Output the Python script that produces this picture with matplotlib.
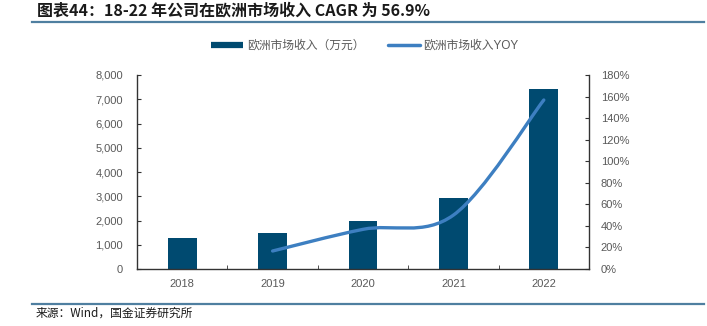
import numpy as np
import matplotlib
matplotlib.use("Agg")
import matplotlib.pyplot as plt
from matplotlib.path import Path
from matplotlib.patches import PathPatch
from matplotlib.lines import Line2D
from matplotlib.ticker import FuncFormatter, MultipleLocator

plt.rcParams['font.family'] = ['Liberation Sans', 'Noto Sans CJK SC', 'DejaVu Sans']

# data
years = ['2018', '2019', '2020', '2021', '2022']
revenue = [1266, 1472, 1966, 2915, 7436]        # 万元
yoy_years = [1, 2, 3, 4]                        # index into years (2019-2022)
yoy = [0.167, 0.368, 0.50, 1.568]

title = '图表44：18-22 年公司在欧洲市场收入 CAGR 为 56.9%'
source = '来源：Wind，国金证券研究所'
bar_name = '欧洲市场收入（万元）'
line_name = '欧洲市场收入YOY'

bar_c = '#004a70'
line_c = '#3d7fc1'
rule_c = '#4f7fa0'
txt_c = '#595959'
axis_c = '#333333'

W, H = 707, 326
fig = plt.figure(figsize=(W / 100, H / 100), dpi=100)
ax = fig.add_axes([137 / W, 1 - 269 / H, (589 - 137) / W, (269 - 75) / H])
ax2 = ax.twinx()

x = np.arange(len(years))
ax.bar(x, revenue, width=0.32, color=bar_c, zorder=2)
ax.set_xlim(-0.5, len(years) - 0.5)
ax.set_ylim(0, 8000)
ax.yaxis.set_major_locator(MultipleLocator(1000))
ax.yaxis.set_major_formatter(FuncFormatter(lambda v, p: f'{int(v):,}'))
ax.set_xticks(x)
ax.set_xticklabels(years)
ax.set_xticks(x[:-1] + 0.5, minor=True)

ax2.set_ylim(0, 1.8)
ax2.yaxis.set_major_locator(MultipleLocator(0.2))
ax2.yaxis.set_major_formatter(FuncFormatter(lambda v, p: f'{v * 100:.0f}%'))


# smooth line like excel: bezier segments with catmull-rom style handles
def smooth_path(px, py):
    pts = np.column_stack([px, py]).astype(float)
    n = len(pts)
    verts = [pts[0]]
    codes = [Path.MOVETO]
    for i in range(n - 1):
        p0 = pts[i - 1] if i > 0 else pts[i]
        p1 = pts[i]
        p2 = pts[i + 1]
        p3 = pts[i + 2] if i + 2 < n else pts[i + 1]
        c1 = p1 + (p2 - p0) / 6
        c2 = p2 - (p3 - p1) / 6
        verts += [c1, c2, p2]
        codes += [Path.CURVE4] * 3
    return Path(verts, codes)


ax2.add_patch(PathPatch(smooth_path(yoy_years, yoy), fill=False, edgecolor=line_c,
                        lw=2.4, capstyle='round', zorder=3))

for a in (ax, ax2):
    a.spines['top'].set_visible(False)
    for s in a.spines.values():
        s.set_color(axis_c)
        s.set_linewidth(1.0)
ax.spines['right'].set_visible(False)
ax2.spines['left'].set_visible(False)
ax2.spines['bottom'].set_visible(False)

ax.tick_params(axis='y', direction='in', length=3, color=axis_c, labelcolor=txt_c,
               labelsize=8, pad=10)
ax.tick_params(axis='x', which='major', length=0, labelcolor=txt_c, labelsize=8, pad=7)
ax.tick_params(axis='x', which='minor', direction='in', length=3, color=axis_c)
ax2.tick_params(axis='y', direction='in', length=3, color=axis_c, labelcolor=txt_c,
                labelsize=8, pad=8.5)

handles = [Line2D([], [], color=bar_c, lw=4.5, solid_capstyle='butt'),
           Line2D([], [], color=line_c, lw=2.5, solid_capstyle='round')]
fig.legend(handles, [bar_name, line_name], loc='center', bbox_to_anchor=(365 / W, 1 - 46 / H),
           ncol=2, frameon=False, fontsize=8.5, handlelength=2.7, handletextpad=0.3,
           columnspacing=2.0, labelcolor=txt_c)

fig.text(37 / W, 1 - 10 / H, title, fontsize=11.5, fontweight='bold', color='#1a1a1a',
         va='center', ha='left', family=['Noto Sans CJK SC', 'DejaVu Sans'])
fig.add_artist(Line2D([32 / W, 704 / W], [1 - 22 / H] * 2, color=rule_c, lw=1.6))
fig.add_artist(Line2D([32 / W, 704 / W], [1 - 304 / H] * 2, color=rule_c, lw=1.6))
fig.text(36 / W, 1 - 313 / H, source, fontsize=8.5, color='#1a1a1a', va='center', ha='left',
         family=['Noto Sans CJK SC', 'DejaVu Sans'])

fig.savefig('out.png', dpi=100)
